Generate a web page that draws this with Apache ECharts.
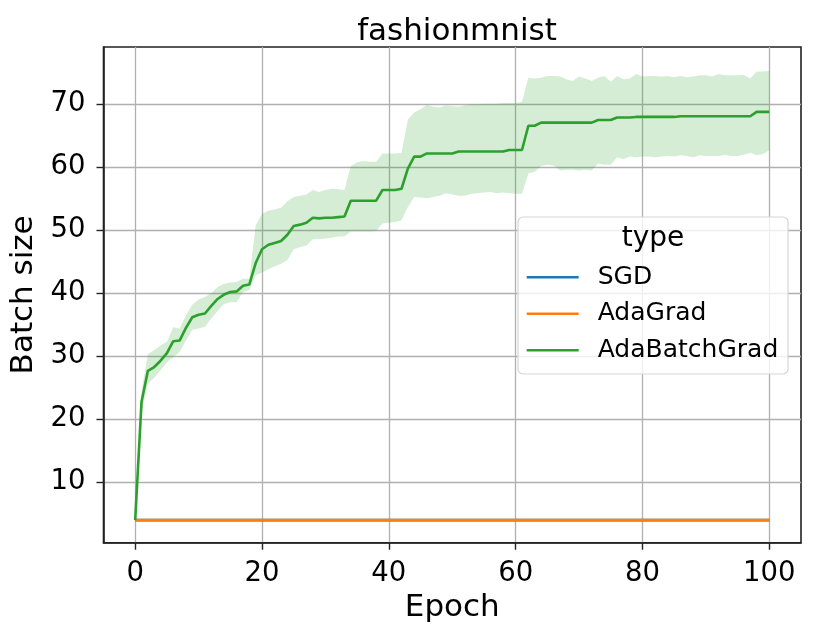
<!DOCTYPE html>
<html><head><meta charset="utf-8">
<script src="https://cdn.jsdelivr.net/npm/echarts@6/dist/echarts.min.js"></script>
<style>html,body{margin:0;padding:0;background:#fff}#c{width:814px;height:638px}</style>
</head><body><div id="c"></div>
<script>
// ---- data ----
const epochs = Array.from({length: 101}, (_, i) => i);
const xTicks = [0, 20, 40, 60, 80, 100];
const yTicks = [10, 20, 30, 40, 50, 60, 70];
const seriesNames = ['SGD', 'AdaGrad', 'AdaBatchGrad'];
const sgd = [4,4,4,4,4,4,4,4,4,4,4,4,4,4,4,4,4,4,4,4,4,4,4,4,4,4,4,4,4,4,4,4,4,4,4,4,4,4,4,4,4,4,4,4,4,4,4,4,4,4,4,4,4,4,4,4,4,4,4,4,4,4,4,4,4,4,4,4,4,4,4,4,4,4,4,4,4,4,4,4,4,4,4,4,4,4,4,4,4,4,4,4,4,4,4,4,4,4,4,4,4];
const adagrad = [4,4,4,4,4,4,4,4,4,4,4,4,4,4,4,4,4,4,4,4,4,4,4,4,4,4,4,4,4,4,4,4,4,4,4,4,4,4,4,4,4,4,4,4,4,4,4,4,4,4,4,4,4,4,4,4,4,4,4,4,4,4,4,4,4,4,4,4,4,4,4,4,4,4,4,4,4,4,4,4,4,4,4,4,4,4,4,4,4,4,4,4,4,4,4,4,4,4,4,4,4];
const adabatchMean = [
 4, 22.8, 27.7, 28.3, 29.3, 30.5, 32.4, 32.5, 34.5, 36.2,
 36.6, 36.8, 38.0, 39.1, 39.8, 40.2, 40.3, 41.2, 41.4, 44.8,
 47.0, 47.7, 48.0, 48.3, 49.3, 50.7, 50.9, 51.2, 52.0, 51.9,
 52.0, 52.0, 52.1, 52.2, 54.7, 54.7, 54.7, 54.7, 54.7, 56.4,
 56.4, 56.4, 56.6, 59.8, 61.7, 61.7, 62.2, 62.2, 62.2, 62.2,
 62.2, 62.5, 62.5, 62.5, 62.5, 62.5, 62.5, 62.5, 62.5, 62.75,
 62.75, 62.75, 66.6, 66.6, 67.1, 67.1, 67.1, 67.1, 67.1, 67.1,
 67.1, 67.1, 67.1, 67.5, 67.5, 67.5, 67.9, 67.9, 67.9, 68.0,
 68.0, 68.0, 68.0, 68.0, 68.0, 68.0, 68.1, 68.1, 68.1, 68.1,
 68.1, 68.1, 68.1, 68.1, 68.1, 68.1, 68.1, 68.1, 68.8, 68.8,
 68.8];
const adabatchUpper = [
 4, 24.5, 30.3, 31.0, 31.7, 32.3, 34.6, 34.4, 36.5, 38.2,
 39.0, 39.4, 40.0, 41.0, 41.5, 41.7, 41.8, 42.3, 42.3, 50.8,
 52.6, 53.1, 53.3, 53.6, 54.6, 55.3, 55.5, 55.7, 56.4, 56.1,
 56.4, 56.6, 56.5, 56.4, 60.2, 60.8, 61.0, 60.9, 60.9, 62.2,
 62.2, 62.2, 62.3, 67.6, 68.7, 69.2, 69.9, 69.6, 69.5, 69.8,
 69.7, 69.6, 69.8, 70.0, 70.0, 70.1, 70.1, 70.1, 70.2, 70.2,
 70.2, 70.4, 74.2, 74.1, 74.2, 74.5, 74.5, 74.4, 74.0, 73.7,
 74.4, 74.1, 73.7, 74.2, 74.5, 73.6, 74.5, 74.0, 74.1, 74.8,
 74.4, 74.5, 74.5, 74.4, 74.5, 74.3, 74.5, 74.3, 74.4, 74.6,
 74.6, 74.4, 74.8, 74.6, 74.6, 74.6, 74.65, 74.1, 75.2, 75.2,
 75.3];
const adabatchLower = [
 4, 21.0, 25.7, 26.6, 27.8, 29.0, 29.9, 30.7, 32.5, 34.2,
 34.4, 34.7, 36.0, 37.2, 38.3, 38.6, 38.6, 40.2, 40.5, 42.9,
 43.3, 43.8, 44.3, 44.7, 45.3, 47.0, 47.3, 47.6, 48.6, 48.6,
 48.7, 48.8, 49.0, 49.0, 49.8, 49.8, 49.8, 49.8, 49.9, 51.1,
 51.2, 51.3, 51.6, 53.7, 55.3, 55.2, 55.1, 55.3, 55.5, 55.9,
 55.7, 55.5, 55.5, 55.8, 55.9, 56.0, 56.1, 55.9, 56.0, 55.9,
 55.8, 55.8, 59.0, 59.3, 60.2, 60.4, 60.3, 59.5, 59.6, 59.6,
 59.5, 59.6, 59.5, 60.6, 60.4, 60.4, 61.6, 61.3, 61.7, 61.6,
 61.7, 61.7, 61.6, 61.7, 61.8, 61.7, 61.9, 61.8, 61.6, 61.9,
 61.8, 61.8, 61.8, 62.0, 61.8, 61.8, 62.0, 62.3, 61.9, 62.1,
 62.7];

// ---- chart ----
const FONT = 'DejaVu Sans';
const pairs = arr => epochs.map((e, i) => [e, arr[i]]);
const bandData = epochs.map((e, i) => [e, adabatchLower[i], adabatchUpper[i]]);

function renderBand(params, api) {
  if (params.dataIndex !== 0) return null;
  const top = [], bottom = [];
  for (let i = 0; i < bandData.length; i++) {
    top.push(api.coord([bandData[i][0], bandData[i][2]]));
    bottom.push(api.coord([bandData[i][0], bandData[i][1]]));
  }
  const pts = top.concat(bottom.reverse());
  return {
    type: 'polygon',
    shape: {points: pts},
    style: {fill: 'rgba(44,160,44,0.2)', stroke: 'none'},
    silent: true
  };
}

const chart = echarts.init(document.getElementById('c'), null, {renderer: 'canvas'});
chart.setOption({
  animation: false,
  backgroundColor: '#fff',
  title: {
    text: 'fashionmnist', left: 452, top: 27, textAlign: 'center', textVerticalAlign: 'middle',
    textStyle: {fontFamily: FONT, fontSize: 31, fontWeight: 'normal', color: '#000'}
  },
  grid: {left: 103.5, right: 13, top: 47, bottom: 95.3, show: true,
    borderColor: '#222', borderWidth: 1.6, backgroundColor: 'transparent', containLabel: false},
  xAxis: {
    type: 'value', min: -5, max: 105,
    name: 'Epoch', nameLocation: 'middle', nameGap: 48,
    nameTextStyle: {fontFamily: FONT, fontSize: 31, color: '#000'},
    axisLine: {show: true, onZero: false, lineStyle: {color: '#222', width: 1.6}},
    axisTick: {show: true, length: 7, customValues: xTicks, lineStyle: {color: '#222', width: 1.4}},
    axisLabel: {customValues: xTicks, margin: 17, fontFamily: FONT, fontSize: 27.5, color: '#000'},
    splitLine: {show: true, lineStyle: {color: '#b0b0b0', width: 1.3}}
  },
  yAxis: {
    type: 'value', min: 0.41, max: 79.1,
    name: 'Batch size', nameLocation: 'middle', nameGap: 64,
    nameTextStyle: {fontFamily: FONT, fontSize: 31, color: '#000'},
    axisLine: {show: true, onZero: false, lineStyle: {color: '#222', width: 1.6}},
    axisTick: {show: true, length: 7, customValues: yTicks, lineStyle: {color: '#222', width: 1.4}},
    axisLabel: {customValues: yTicks, margin: 18, fontFamily: FONT, fontSize: 27.5, color: '#000'},
    splitLine: {show: true, lineStyle: {color: '#b0b0b0', width: 1.3}}
  },
  legend: {
    data: seriesNames, orient: 'vertical', left: 526.7, top: 262.3, z: 6,
    padding: 0, icon: 'rect', itemWidth: 52, itemHeight: 2.6, itemGap: 6.5,
    textStyle: {fontFamily: FONT, fontSize: 25, color: '#000', lineHeight: 30, padding: [0, 0, 0, 14]}
  },
  graphic: [
    {type: 'rect', z: 5, shape: {x: 518, y: 217, width: 270, height: 157, r: 5},
     style: {fill: 'rgba(255,255,255,0.8)', stroke: '#d6d6d6', lineWidth: 1.2}},
    {type: 'text', z: 6, x: 653, y: 239,
     style: {text: 'type', fontFamily: FONT, fontSize: 28, fill: '#000', align: 'center', verticalAlign: 'middle'}}
  ],
  series: [
    {name: 'band', type: 'custom', data: bandData, renderItem: renderBand, silent: true, z: 1,
     clip: true, encode: {x: 0, y: [1, 2]}},
    {name: 'SGD', type: 'line', data: pairs(sgd), symbol: 'none', color: '#1f77b4',
     lineStyle: {color: '#1f77b4', width: 2.6}, z: 2},
    {name: 'AdaGrad', type: 'line', data: pairs(adagrad), symbol: 'none', color: '#ff7f0e',
     lineStyle: {color: '#ff7f0e', width: 2.6}, z: 3},
    {name: 'AdaBatchGrad', type: 'line', data: pairs(adabatchMean), symbol: 'none', color: '#2ca02c',
     lineStyle: {color: '#2ca02c', width: 2.6}, z: 4}
  ]
});
</script></body></html>
